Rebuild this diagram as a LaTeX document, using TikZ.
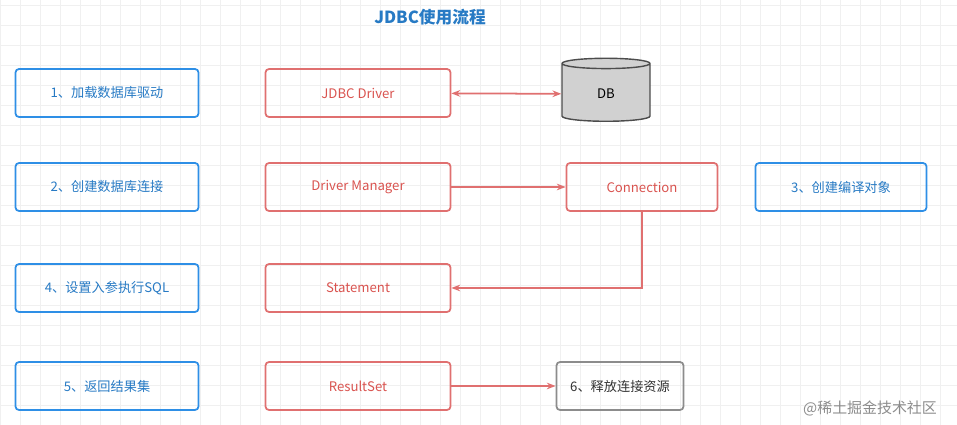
\documentclass[tikz,border=0pt]{standalone}
\usepackage{fontspec}
\setmainfont{Noto Sans CJK SC}
\usetikzlibrary{shapes.geometric,arrows.meta}
\definecolor{stepblue}{HTML}{2E8FE6}
\definecolor{objred}{HTML}{E07070}
\definecolor{objtext}{HTML}{D9534F}
\definecolor{endgray}{HTML}{8C8C8C}
\begin{document}
\begin{tikzpicture}[font=\fontsize{7.5}{9}\selectfont]
\tikzset{stepStyle/.style = {draw = stepblue, line width = 1pt, rounded corners = 2pt, text = stepblue!85!black, minimum width = 3.66cm, minimum height = 0.96cm}}
\tikzset{objStyle/.style = {draw = objred, line width = 1pt, rounded corners = 2pt, text = objtext, minimum width = 3.7cm, minimum height = 0.96cm}}
\tikzset{linkStyle/.style = {draw = objred, line width = 1pt, -{Stealth[length=5pt]}}}
\useasboundingbox (0,0) rectangle (19.14,8.5);
\draw[black!6, step = 0.4] (0,0) grid (19.14,8.5);
\node[text = stepblue!85!black, font = \fontsize{9.5}{11}\selectfont\bfseries] (title) at (8.6,8.16) {JDBC使用流程};
\node[stepStyle] (s1) at (2.14,6.64) {1、加载数据库驱动};
\node[stepStyle] (s2) at (2.14,4.76) {2、创建数据库连接};
\node[stepStyle] (s4) at (2.14,2.74) {4、设置入参执行SQL};
\node[stepStyle] (s5) at (2.14,0.78) {5、返回结果集};
\node[objStyle] (driver) at (7.16,6.64) {JDBC Driver};
\node[objStyle] (manager) at (7.16,4.76) {Driver Manager};
\node[objStyle] (stmt) at (7.16,2.74) {Statement};
\node[objStyle] (rs) at (7.16,0.78) {ResultSet};
\node[cylinder, shape border rotate = 90, aspect = 0.35, draw = black!70, fill = black!18, line width = 0.8pt, minimum width = 1.76cm, minimum height = 1.26cm] (db) at (12.12,6.62) {DB};
\node[objStyle, minimum width = 3.02cm] (conn) at (12.84,4.76) {Connection};
\node[stepStyle, minimum width = 3.42cm] (s3) at (16.82,4.76) {3、创建编译对象};
\node[objStyle, draw = endgray, text = black!80, minimum width = 2.54cm] (s6) at (12.40,0.78) {6、释放连接资源};
\node[text = black!45, font = \fontsize{8.5}{10}\selectfont] (mark) at (17.4,0.34) {@稀土掘金技术社区};
\draw[linkStyle, {Stealth[length=5pt]}-{Stealth[length=5pt]}] (driver) -- (db);
\draw[linkStyle] (manager) -- (conn);
\draw[linkStyle] (conn.south) |- (stmt.east);
\draw[linkStyle] (rs) -- (s6);
\end{tikzpicture}
\end{document}
